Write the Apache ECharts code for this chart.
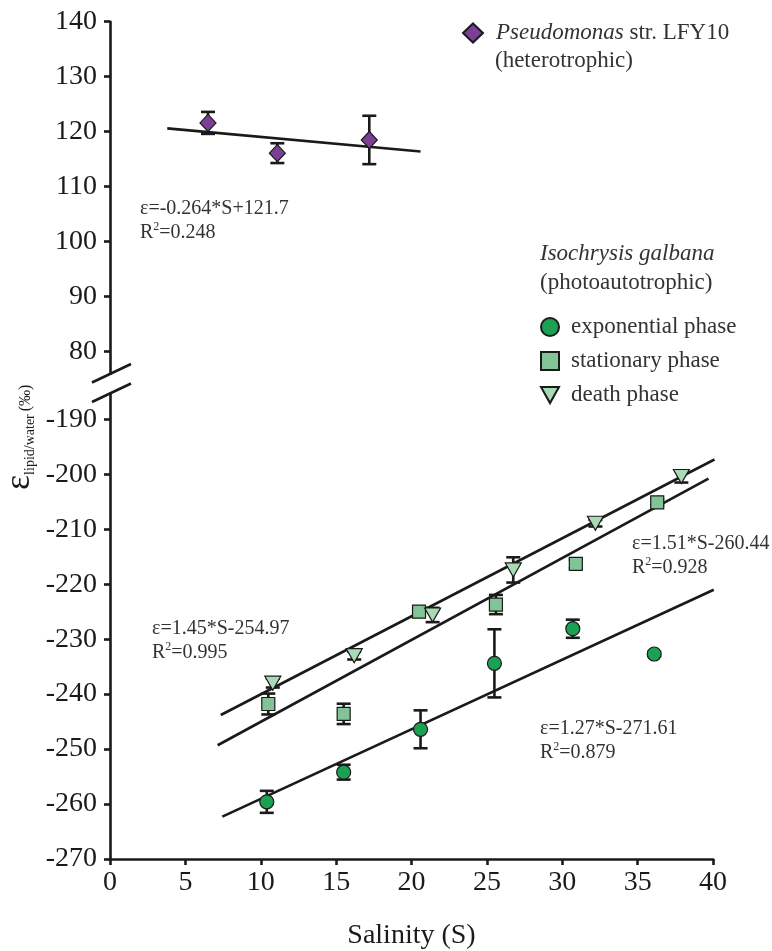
<!DOCTYPE html>
<html>
<head>
<meta charset="utf-8">
<script src="https://cdn.jsdelivr.net/npm/echarts@6/dist/echarts.min.js"></script>
<style>html,body{margin:0;padding:0;background:#fff;}#c{width:772px;height:951px;}</style>
</head>
<body>
<div id="c"></div>
<script>
// ---- data ----
const xTicks = [0, 5, 10, 15, 20, 25, 30, 35, 40];
const yTicksTop = [80, 90, 100, 110, 120, 130, 140];
const yTicksBottom = [-270, -260, -250, -240, -230, -220, -210, -200, -190];

const pseudoS = [6.5, 11.1, 17.2];
const pseudoE = [121.6, 116.1, 118.5];
const pseudoErr = [2.0, 1.8, 4.4];
const pseudoFitS = [3.8, 20.6];
const pseudoFitE = [120.6, 116.4];

const expS = [10.4, 15.5, 20.6, 25.5, 30.7, 36.1];
const expE = [-259.6, -254.2, -246.4, -234.4, -228.1, -232.7];
const expErr = [2.0, 1.35, 3.45, 6.2, 1.65, 0.4];

const staS = [10.5, 15.5, 20.5, 25.6, 30.9, 36.3];
const staE = [-241.8, -243.6, -225.0, -223.7, -216.3, -205.1];
const staErr = [1.9, 1.85, 0.5, 1.75, 0.8, 0.6];

const dthS = [10.8, 16.2, 21.4, 26.75, 32.2, 37.9];
const dthE = [-238.0, -233.0, -225.6, -217.4, -208.9, -200.4];
const dthErr = [0.8, 0.7, 1.3, 2.3, 0.6, 1.1];

const dthFitS = [7.35, 40.1];
const dthFitE = [-243.8, -197.3];
const staFitS = [7.14, 39.7];
const staFitE = [-249.3, -200.8];
const expFitS = [7.45, 40.05];
const expFitE = [-262.3, -221.0];

const names = {
  pseudo: 'Pseudomonas str. LFY10',
  exp: 'exponential phase',
  sta: 'stationary phase',
  dth: 'death phase'
};
// ---------------------------------------

const FONT = 'Liberation Serif';
const INK = '#1a1a1a';
const TXT = '#333333';
const triDown = 'path://M0,0 L10,0 L5,9 Z';

const zip = (a, b) => a.map((v, i) => [v, b[i]]);
const errData = (s, e, err) => s.map((v, i) => [v, e[i] - err[i], e[i] + err[i]]);

function errorBar(params, api) {
  const x = api.value(0), lo = api.value(1), hi = api.value(2);
  const pHi = api.coord([x, hi]);
  const pLo = api.coord([x, lo]);
  const w = 7;
  const st = { stroke: INK, lineWidth: 2.6 };
  return {
    type: 'group',
    children: [
      { type: 'line', shape: { x1: pHi[0], y1: pHi[1], x2: pLo[0], y2: pLo[1] }, style: st },
      { type: 'line', shape: { x1: pHi[0] - w, y1: pHi[1], x2: pHi[0] + w, y2: pHi[1] }, style: st },
      { type: 'line', shape: { x1: pLo[0] - w, y1: pLo[1], x2: pLo[0] + w, y2: pLo[1] }, style: st }
    ]
  };
}

const axisLine = { show: true, lineStyle: { color: INK, width: 2.6 } };
const axisTick = { show: true, length: 6, lineStyle: { color: INK, width: 2.6 } };
const axisLabel = { color: INK, fontFamily: FONT, fontSize: 28 };

const chart = echarts.init(document.getElementById('c'));

function fitSeries(name, s, e, xi, yi) {
  return {
    name: name, type: 'line', xAxisIndex: xi, yAxisIndex: yi,
    data: zip(s, e), symbol: 'none', silent: true,
    lineStyle: { color: INK, width: 2.6 }, z: 2
  };
}
function errSeries(s, e, err, xi, yi) {
  return {
    type: 'custom', xAxisIndex: xi, yAxisIndex: yi,
    data: errData(s, e, err), renderItem: errorBar, z: 3, silent: true
  };
}

const annot = (left, top, l1, l2) => ({
  type: 'text', left: left, top: top,
  style: {
    text: l1 + '\n{r|R}{sup|2}{r|=' + l2 + '}',
    fontFamily: FONT, fontSize: 20, lineHeight: 24, fill: TXT,
    rich: {
      r: { fontFamily: FONT, fontSize: 20, fill: TXT },
      sup: { fontFamily: FONT, fontSize: 12, fill: TXT, verticalAlign: 'top', padding: [0, 0, 8, 0] }
    }
  }
});

chart.setOption({
  animation: false,
  backgroundColor: '#fff',
  grid: [
    { left: 110, top: 21.7, width: 603, height: 352 },
    { left: 110, top: 393.5, width: 603, height: 465.85 }
  ],
  xAxis: [
    { type: 'value', gridIndex: 0, min: 0, max: 40, show: false },
    {
      type: 'value', gridIndex: 1, min: 0, max: 40, interval: 5,
      axisLine: axisLine, axisTick: axisTick, splitLine: { show: false },
      axisLabel: Object.assign({}, axisLabel, { margin: 10, customValues: xTicks }),
      name: 'Salinity (S)', nameLocation: 'middle', nameGap: 63,
      nameTextStyle: { color: INK, fontFamily: FONT, fontSize: 28 }
    }
  ],
  yAxis: [
    {
      type: 'value', gridIndex: 0, min: 76, max: 140,
      axisLine: axisLine, splitLine: { show: false },
      axisTick: Object.assign({}, axisTick, { customValues: yTicksTop }),
      axisLabel: Object.assign({}, axisLabel, { margin: 13, customValues: yTicksTop })
    },
    {
      type: 'value', gridIndex: 1, min: -270, max: -185.3,
      axisLine: axisLine, splitLine: { show: false },
      axisTick: Object.assign({}, axisTick, { customValues: yTicksBottom }),
      axisLabel: Object.assign({}, axisLabel, { margin: 13, customValues: yTicksBottom })
    }
  ],
  legend: [
    {
      data: [{ name: names.pseudo, icon: 'diamond' }],
      left: 457, top: 16, itemWidth: 20, itemHeight: 19,
      formatter: () => '{i|Pseudomonas} str. LFY10',
      textStyle: {
        color: TXT, fontFamily: FONT, fontSize: 23, lineHeight: 24, padding: [0, 0, 0, 8],
        rich: { i: { fontStyle: 'italic', fontFamily: FONT, fontSize: 23, color: TXT } }
      }
    },
    {
      data: [
        { name: names.exp, icon: 'circle' },
        { name: names.sta, icon: 'rect' },
        { name: names.dth, icon: triDown }
      ],
      orient: 'vertical', left: 535, top: 310, itemGap: 10,
      itemWidth: 18, itemHeight: 18,
      textStyle: { color: TXT, fontFamily: FONT, fontSize: 23, lineHeight: 24, padding: [0, 0, 0, 7] }
    }
  ],
  series: [
    fitSeries('fitP', pseudoFitS, pseudoFitE, 0, 0),
    errSeries(pseudoS, pseudoE, pseudoErr, 0, 0),
    {
      name: names.pseudo, type: 'scatter', xAxisIndex: 0, yAxisIndex: 0,
      data: zip(pseudoS, pseudoE), symbol: 'diamond', symbolSize: [16, 17], z: 5,
      itemStyle: { color: '#7B3F98', borderColor: INK, borderWidth: 1.2, opacity: 1 }
    },
    fitSeries('fitD', dthFitS, dthFitE, 1, 1),
    fitSeries('fitS', staFitS, staFitE, 1, 1),
    fitSeries('fitE', expFitS, expFitE, 1, 1),
    errSeries(expS, expE, expErr, 1, 1),
    errSeries(staS, staE, staErr, 1, 1),
    errSeries(dthS, dthE, dthErr, 1, 1),
    {
      name: names.exp, type: 'scatter', xAxisIndex: 1, yAxisIndex: 1,
      data: zip(expS, expE), symbol: 'circle', symbolSize: 14, z: 5,
      itemStyle: { color: '#1CA152', borderColor: INK, borderWidth: 1.2, opacity: 1 }
    },
    {
      name: names.sta, type: 'scatter', xAxisIndex: 1, yAxisIndex: 1,
      data: zip(staS, staE), symbol: 'rect', symbolSize: 13, z: 5,
      itemStyle: { color: '#80C497', borderColor: INK, borderWidth: 1.2, opacity: 1 }
    },
    {
      name: names.dth, type: 'scatter', xAxisIndex: 1, yAxisIndex: 1,
      data: zip(dthS, dthE), symbol: triDown, symbolSize: [16, 14], z: 6,
      itemStyle: { color: '#A8DAB5', borderColor: INK, borderWidth: 1.2, opacity: 1 }
    }
  ],
  graphic: [
    // axis break marks
    { type: 'line', shape: { x1: 92, y1: 382.5, x2: 131, y2: 364 }, style: { stroke: INK, lineWidth: 2.6 } },
    { type: 'line', shape: { x1: 92, y1: 402, x2: 131, y2: 383.5 }, style: { stroke: INK, lineWidth: 2.6 } },
    // y axis title (rotated)
    {
      type: 'text', x: 1.5, y: 490, rotation: Math.PI / 2,
      style: {
        text: '{e|ε}{s|lipid/water}{p|(‰)}',
        fill: INK,
        rich: {
          e: { fontFamily: FONT, fontSize: 36, fill: INK, lineHeight: 36 },
          s: { fontFamily: FONT, fontSize: 14, fill: INK, verticalAlign: 'bottom', padding: [0, 3, 0, 0] },
          p: { fontFamily: FONT, fontSize: 16, fill: INK, verticalAlign: 'bottom', padding: [0, 0, 4, 0] }
        }
      }
    },
    // legend sub-lines / headers
    { type: 'text', left: 495, top: 49, style: { text: '(heterotrophic)', fontFamily: FONT, fontSize: 23, fill: TXT } },
    { type: 'text', left: 540, top: 242, style: { text: 'Isochrysis galbana', fontFamily: FONT, fontSize: 23, fontStyle: 'italic', fill: TXT } },
    { type: 'text', left: 540, top: 271, style: { text: '(photoautotrophic)', fontFamily: FONT, fontSize: 23, fill: TXT } },
    // regression annotations
    annot(140, 197, 'ε=-0.264*S+121.7', '0.248'),
    annot(152, 617, 'ε=1.45*S-254.97', '0.995'),
    annot(632, 532, 'ε=1.51*S-260.44', '0.928'),
    annot(540, 717, 'ε=1.27*S-271.61', '0.879')
  ]
});
</script>
</body>
</html>
